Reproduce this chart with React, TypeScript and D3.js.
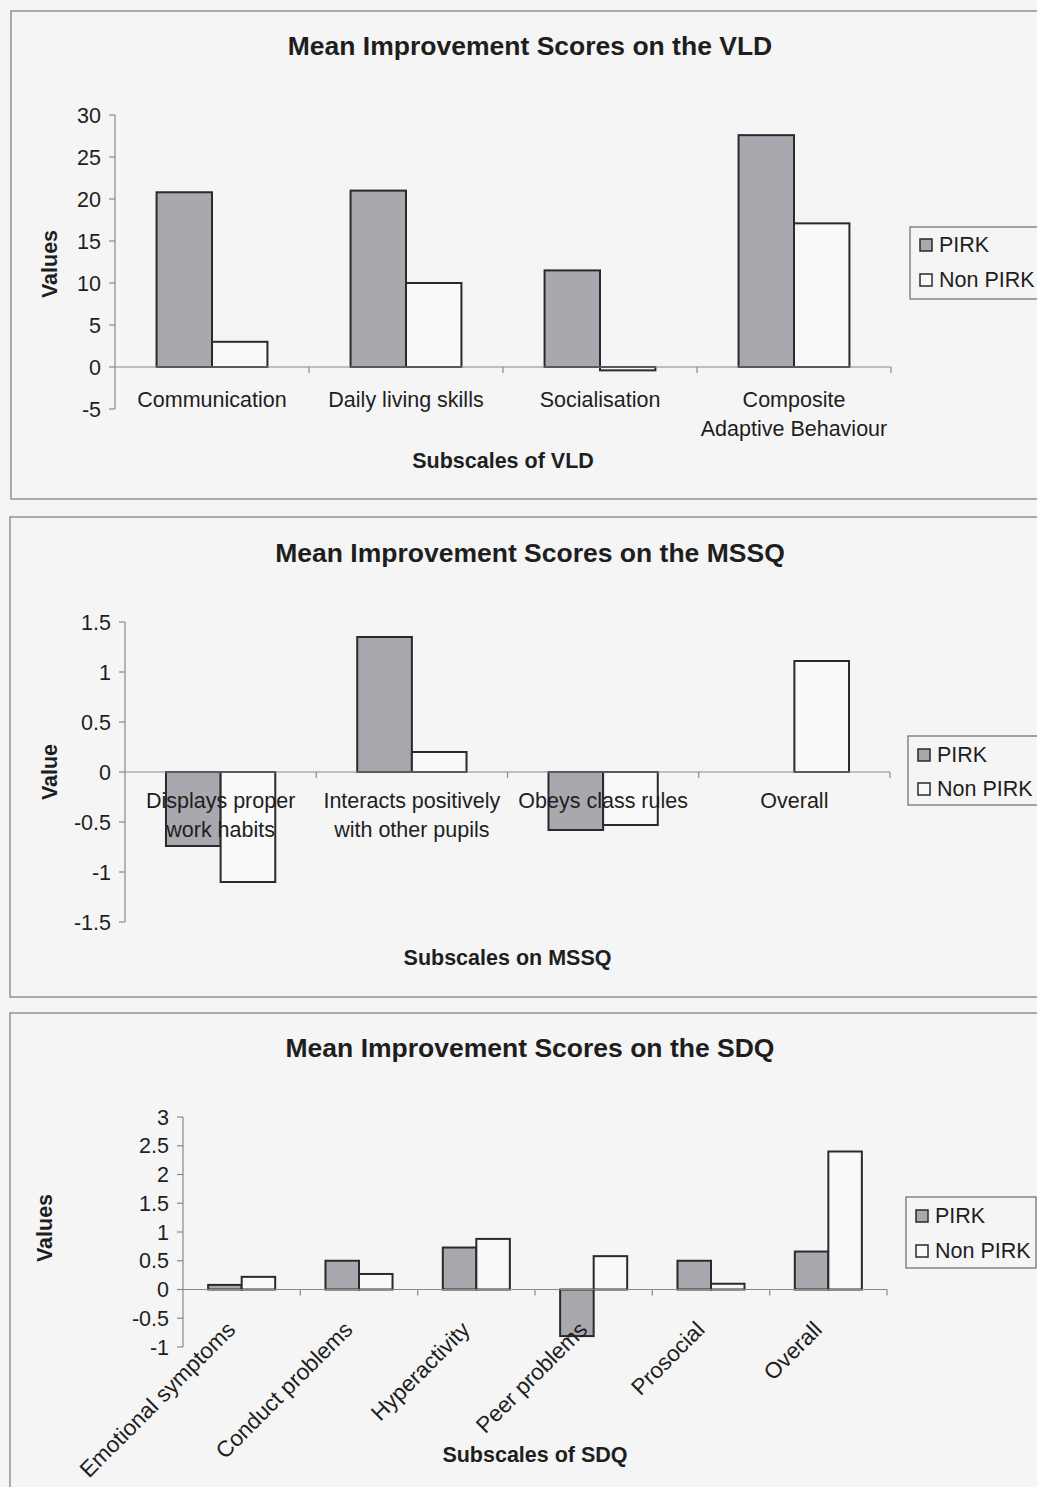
import React from "react";
import * as d3 from "d3";

// ---- Data ----
const seriesNames = ["PIRK", "Non PIRK"];

const vldCategories = ["Communication", "Daily living skills", "Socialisation", "Composite\nAdaptive Behaviour"];
const vldPirk = [20.8, 21.0, 11.5, 27.6];
const vldNonPirk = [3.0, 10.0, -0.4, 17.1];
const vldTicks = [-5, 0, 5, 10, 15, 20, 25, 30];

const mssqCategories = ["Displays proper\nwork habits", "Interacts positively\nwith other pupils", "Obeys class rules", "Overall"];
const mssqPirk = [-0.74, 1.35, -0.58, 0];
const mssqNonPirk = [-1.1, 0.2, -0.53, 1.11];
const mssqTicks = [-1.5, -1, -0.5, 0, 0.5, 1, 1.5];

const sdqCategories = ["Emotional symptoms", "Conduct problems", "Hyperactivity", "Peer problems", "Prosocial", "Overall"];
const sdqPirk = [0.08, 0.5, 0.73, -0.81, 0.5, 0.66];
const sdqNonPirk = [0.22, 0.27, 0.88, 0.58, 0.1, 2.4];
const sdqTicks = [-1, -0.5, 0, 0.5, 1, 1.5, 2, 2.5, 3];

// ---- Styling ----
const FONT = "'Liberation Sans', Arial, Helvetica, sans-serif";
const BG = "#f5f5f5";
const PIRK_FILL = "#a8a8ae";
const NON_FILL = "#f9f9f9";
const BAR_STROKE = "#2a2a2a";
const AXIS = "#8a8a8a";
const TEXT = "#1e1e1e";

type PanelProps = {
  frame: { x: number; y: number; w: number; h: number };
  title: string;
  titleY: number;
  yTitle: string;
  yTitleX: number;
  yTitleY: number;
  xTitle: string;
  xTitleY: number;
  categories: string[];
  pirk: number[];
  nonPirk: number[];
  ticks: number[];
  x0: number;
  x1: number;
  yTop: number;
  yBottom: number;
  labelY: number;
  rotateLabels?: boolean;
  legend: { x: number; y: number; w: number; h: number; b1: number; b2: number };
};

function Panel(p: PanelProps) {
  const yMin = p.ticks[0];
  const yMax = p.ticks[p.ticks.length - 1];
  const y = d3.scaleLinear().domain([yMin, yMax]).range([p.yBottom, p.yTop]);
  const x = d3.scaleBand<string>().domain(p.categories).range([p.x0, p.x1]).paddingInner(0).paddingOuter(0);
  const xs = d3.scaleBand<string>().domain(seriesNames).range([0, x.bandwidth()]).paddingInner(0).paddingOuter(0.75);
  const y0 = y(0);
  const values = [p.pirk, p.nonPirk];
  const fills = [PIRK_FILL, NON_FILL];
  const boundaries = p.categories.map((c) => x(c)! + x.bandwidth());

  return (
    <g>
      <rect x={p.frame.x} y={p.frame.y} width={p.frame.w} height={p.frame.h} fill="none" stroke="#7a7a7a" strokeWidth={1.2} />
      <text x={530} y={p.titleY} textAnchor="middle" fontFamily={FONT} fontWeight="bold" fontSize={26.5} fill={TEXT}>
        {p.title}
      </text>

      {/* value axis */}
      <line x1={p.x0} x2={p.x0} y1={y(yMax)} y2={y(yMin)} stroke={AXIS} strokeWidth={1.2} />
      {p.ticks.map((t) => (
        <g key={t}>
          <line x1={p.x0 - 6} x2={p.x0} y1={y(t)} y2={y(t)} stroke={AXIS} strokeWidth={1.2} />
          <text x={p.x0 - 14} y={y(t) + 7.5} textAnchor="end" fontFamily={FONT} fontSize={21.5} fill={TEXT}>
            {String(t)}
          </text>
        </g>
      ))}
      <text
        transform={`translate(${p.yTitleX},${p.yTitleY}) rotate(-90)`}
        textAnchor="middle"
        fontFamily={FONT}
        fontWeight="bold"
        fontSize={21.5}
        fill={TEXT}
      >
        {p.yTitle}
      </text>

      {/* bars */}
      {values.map((vals, si) =>
        vals.map((v, ci) => {
          if (v === 0) return null;
          const bx = x(p.categories[ci])! + xs(seriesNames[si])!;
          const top = Math.min(y(v), y0);
          const h = Math.abs(y(v) - y0);
          return (
            <rect
              key={`${si}-${ci}`}
              x={bx}
              y={top}
              width={xs.bandwidth()}
              height={h}
              fill={fills[si]}
              stroke={BAR_STROKE}
              strokeWidth={2}
            />
          );
        })
      )}

      {/* category axis */}
      <line x1={p.x0} x2={p.x1} y1={y0} y2={y0} stroke={AXIS} strokeWidth={1.2} />
      {boundaries.map((bx, i) => (
        <line key={i} x1={bx} x2={bx} y1={y0} y2={y0 + 6} stroke={AXIS} strokeWidth={1.2} />
      ))}

      {/* category labels */}
      {p.categories.map((c) => {
        const cx = x(c)! + x.bandwidth() / 2;
        if (p.rotateLabels) {
          return (
            <text
              key={c}
              transform={`translate(${cx - 5},${p.labelY}) rotate(-45)`}
              textAnchor="end"
              fontFamily={FONT}
              fontSize={22.5}
              fill={TEXT}
            >
              {c}
            </text>
          );
        }
        const lines = c.split("\n");
        return (
          <text key={c} x={cx} y={p.labelY} textAnchor="middle" fontFamily={FONT} fontSize={21.5} fill={TEXT}>
            {lines.map((ln, i) => (
              <tspan key={i} x={cx} dy={i === 0 ? 0 : 29}>
                {ln}
              </tspan>
            ))}
          </text>
        );
      })}

      <text x={(p.x0 + p.x1) / 2} y={p.xTitleY} textAnchor="middle" fontFamily={FONT} fontWeight="bold" fontSize={21.5} fill={TEXT}>
        {p.xTitle}
      </text>

      {/* legend */}
      <rect x={p.legend.x} y={p.legend.y} width={p.legend.w} height={p.legend.h} fill="none" stroke="#6a6a6a" strokeWidth={1.2} />
      {seriesNames.map((s, i) => {
        const b = i === 0 ? p.legend.b1 : p.legend.b2;
        return (
          <g key={s}>
            <rect x={p.legend.x + 10} y={b - 13} width={12} height={12} fill={fills[i]} stroke={BAR_STROKE} strokeWidth={1.5} />
            <text x={p.legend.x + 29} y={b} fontFamily={FONT} fontSize={21.5} fill={TEXT}>
              {s}
            </text>
          </g>
        );
      })}
    </g>
  );
}

export default function App() {
  return (
    <svg
      width={1037}
      height={1487}
      viewBox="0 0 1037 1487"
      style={{ position: "absolute", left: 0, top: 0, display: "block" }}
    >
      <rect x={0} y={0} width={1037} height={1487} fill={BG} />
      <Panel
        frame={{ x: 11, y: 11, w: 1060, h: 488 }}
        title="Mean Improvement Scores on the VLD"
        titleY={55}
        yTitle="Values"
        yTitleX={57}
        yTitleY={264}
        xTitle="Subscales of VLD"
        xTitleY={468}
        categories={vldCategories}
        pirk={vldPirk}
        nonPirk={vldNonPirk}
        ticks={vldTicks}
        x0={115}
        x1={891}
        yTop={115}
        yBottom={409}
        labelY={407}
        legend={{ x: 910, y: 227, w: 150, h: 72, b1: 252, b2: 287 }}
      />
      <Panel
        frame={{ x: 10, y: 517, w: 1060, h: 480 }}
        title="Mean Improvement Scores on the MSSQ"
        titleY={562}
        yTitle="Value"
        yTitleX={57}
        yTitleY={772}
        xTitle="Subscales on MSSQ"
        xTitleY={965}
        categories={mssqCategories}
        pirk={mssqPirk}
        nonPirk={mssqNonPirk}
        ticks={mssqTicks}
        x0={125}
        x1={890}
        yTop={622}
        yBottom={922}
        labelY={808}
        legend={{ x: 908, y: 736, w: 150, h: 69, b1: 762, b2: 796 }}
      />
      <Panel
        frame={{ x: 10, y: 1013, w: 1060, h: 520 }}
        title="Mean Improvement Scores on the SDQ"
        titleY={1057}
        yTitle="Values"
        yTitleX={52}
        yTitleY={1228}
        xTitle="Subscales of SDQ"
        xTitleY={1462}
        categories={sdqCategories}
        pirk={sdqPirk}
        nonPirk={sdqNonPirk}
        ticks={sdqTicks}
        x0={183}
        x1={887}
        yTop={1117}
        yBottom={1347}
        labelY={1331}
        rotateLabels
        legend={{ x: 906, y: 1197, w: 130, h: 71, b1: 1223, b2: 1258 }}
      />
    </svg>
  );
}
